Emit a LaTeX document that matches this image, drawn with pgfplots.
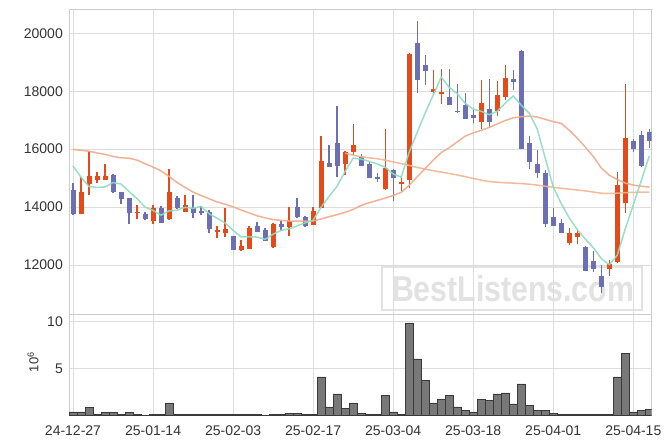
\documentclass[border=0pt]{standalone}
\usepackage{pgfplots}
\pgfplotsset{compat=1.18}
\usepackage{pgfplotstable}
\usepackage{fontspec}
\setmainfont{Liberation Sans}
\definecolor{cup}{HTML}{E6491A}
\definecolor{cdn}{HTML}{6C70B2}
\definecolor{ma5}{HTML}{8DDCBF}
\definecolor{ma20}{HTML}{F0A98A}
\definecolor{ma60}{HTML}{F2B48E}
\definecolor{gridc}{HTML}{DDDDDD}
\definecolor{framec}{HTML}{CCCCCC}
\definecolor{vol}{HTML}{787878}
\definecolor{volb}{HTML}{3A3A3A}
\definecolor{labc}{HTML}{333333}
\definecolor{wm}{HTML}{E2E2E2}

% up candles: i, body bottom (open), body top (close), low, high
\pgfplotstableread{
i b t l h
1 13769 14517 13760 15024
2 14783 15069 14403 15941
3 14941 15059 14817 15197
4 14941 15059 14931 15483
8 13783 13838 13576 14079
10 13528 13955 13403 14079
12 13576 14517 13560 15300
14 13838 14069 13830 14414
18 13148 13207 12921 13345
19 13114 13231 12976 13976
21 12507 12645 12500 12862
22 12562 13276 12550 13345
25 12610 13414 12600 13440
27 13321 13517 13010 13990
30 13379 13862 13370 14010
31 13976 15586 13976 16448
34 15472 15907 15103 15930
35 15907 16138 15793 16862
39 14610 15334 14600 16713
41 14783 14872 14552 15079
42 14931 19300 14645 19310
45 17976 18069 17862 18724
46 17907 17989 17576 18758
51 16941 17597 16713 18379
53 17321 17862 17138 18345
54 17807 18460 17690 18897
62 12748 13114 12690 13266
63 12955 13114 12724 13231
67 11852 12050 11621 12172
68 12093 14759 12080 15217
69 14128 16369 13803 18241
}\upt

% down candles: i, body bottom (close), body top (open), low, high
\pgfplotstableread{
i b t l h
0 13759 14586 13735 14838
5 14528 15103 14472 15148
6 14266 14517 14103 14530
7 13783 14310 13414 14320
9 13576 13748 13560 13838
11 13459 13955 13440 14024
13 13955 14299 13940 14379
15 13783 13966 13610 14414
16 13803 13862 13724 14034
17 13231 13828 13093 13897
20 12528 13000 12517 13010
23 13148 13345 13140 13472
24 12838 13207 12830 13266
26 13321 13403 13183 13517
28 13666 13990 13631 14299
29 13355 13666 13321 13700
32 15390 15528 15369 16138
33 15424 16196 15024 17483
36 15424 15734 15410 15816
37 15013 15472 15000 15540
38 14966 15045 14872 15160
40 14989 15276 14207 15300
43 18390 19655 17955 20414
44 18701 18897 18207 19241
47 17517 17806 17510 18783
48 17270 17300 17260 18264
49 17045 17517 17040 17931
50 17080 17172 16886 17368
52 16941 17403 16748 18437
55 18321 18414 18034 18724
56 16010 19379 16000 19438
57 15541 16216 15300 16459
58 15162 15472 14990 15965
59 13403 15183 13321 15276
60 13355 13666 13340 13955
61 13114 13459 13093 13576
64 11793 12631 11790 12640
65 11862 12138 11769 12483
66 11231 11621 11045 12000
70 15990 16276 15907 16334
71 15424 16483 15390 16621
72 16286 16576 16045 16679
}\dnt

% volume, millions
\pgfplotstableread{
i v
0 0.39
1 0.39
2 0.82
3 0.12
4 0.29
5 0.29
6 0.15
7 0.29
8 0.15
9 0
10 0.1
11 0.1
12 1.35
13 0.1
14 0.1
15 0.1
16 0.1
17 0.1
18 0.1
19 0.1
20 0.1
21 0.1
22 0.1
23 0.1
24 0
25 0.1
26 0.1
27 0.25
28 0.25
29 0.1
30 0.1
31 4.1
32 0.92
33 2.3
34 0.75
35 1.35
36 0.25
37 0.1
38 0.1
39 2.1
40 0.39
41 0.1
42 9.86
43 6.03
44 3.72
45 1.35
46 1.7
47 2.1
48 0.92
49 0.53
50 0.39
51 1.7
52 1.6
53 2.3
54 2.41
55 1.24
56 3.37
57 1.06
58 0.53
59 0.53
60 0.25
61 0.1
62 0.1
63 0.1
64 0.1
65 0.1
66 0.1
67 0.1
68 4.1
69 6.6
70 0.39
71 0.53
72 0.64
}\volt

\pgfplotsset{
  candle/.style n args={2}{only marks, mark size=0pt, mark options={draw=none, fill=none},
    error bars/.cd, y dir=plus, y explicit, error mark=none,
    error bar style={line width=#2, color=#1}},
}

\begin{document}
\begin{tikzpicture}
\path[use as bounding box] (0pt,0pt) rectangle (671pt,444pt);
% watermark
\draw[line width=2.5pt, draw=wm] (382pt,134pt) rectangle (642pt,177pt);
\node[text=wm, font=\fontsize{36}{36}\selectfont\bfseries, inner sep=0pt] at (513pt,155.5pt) {\scalebox{0.84}[1]{BestListens.com}};

\begin{axis}[
  at={(69pt,130pt)}, anchor=south west, scale only axis,
  width=582.7pt, height=304.7pt,
  xmin=-0.5, xmax=72.3, ymin=10310, ymax=20828,
  xtick={0,10,...,70}, xticklabels={},
  ytick={12000,14000,...,20000},
  scaled y ticks=false,
  grid=major, major grid style={draw=gridc, line width=0.8pt},
  axis line style={draw=framec, line width=0.8pt},
  tick style={draw=none},
  /pgf/number format/assume math mode=true,
  /pgf/number format/1000 sep={},
  yticklabel style={font=\fontsize{14}{16}\selectfont, text=labc, inner sep=0pt, anchor=east, xshift=-6pt},
]
% wicks
\addplot[color=cup, candle={cup}{1.3pt}]
  table[x=i, y=l, y error expr=\thisrow{h}-\thisrow{l}] {\upt};
\addplot[color=cdn, candle={cdn}{1.3pt}]
  table[x=i, y=l, y error expr=\thisrow{h}-\thisrow{l}] {\dnt};
% bodies
\addplot[color=cup, candle={cup}{5pt}]
  table[x=i, y=b, y error expr=\thisrow{t}-\thisrow{b}] {\upt};
\addplot[color=cdn, candle={cdn}{5pt}]
  table[x=i, y=b, y error expr=\thisrow{t}-\thisrow{b}] {\dnt};
% MA20
\addplot[ma20, line width=1.5pt, opacity=0.9, mark=none] coordinates {
(0,15990)(1,15960)(2,15930)(3,15870)(4,15820)(5,15750)(6,15700)(7,15690)(8,15620)(9,15500)
(10,15380)(11,15250)(12,15060)(13,14850)(14,14680)(15,14520)(16,14400)(17,14290)(18,14180)(19,14100)
(20,14010)(21,13900)(22,13800)(23,13700)(24,13630)(25,13570)(26,13540)(27,13520)(28,13515)(29,13515)
(30,13520)(31,13590)(32,13670)(33,13740)(34,13820)(35,13920)(36,14060)(37,14150)(38,14230)(39,14310)
(40,14400)(41,14510)(42,14750)(43,15050)(44,15330)(45,15620)(46,15880)(47,16050)(48,16250)(49,16450)
(50,16560)(51,16650)(52,16750)(53,16870)(54,16990)(55,17080)(56,17120)(57,17140)(58,17110)(59,17030)
(60,16950)(61,16890)(62,16650)(63,16380)(64,16070)(65,15750)(66,15350)(67,15100)(68,14950)(69,14830)
(70,14760)(71,14720)(72,14690)};
% MA60
\addplot[ma60, line width=1.5pt, opacity=0.9, mark=none] coordinates {
(34,15860)(35,15790)(36,15740)(37,15700)(38,15670)(39,15620)
(40,15560)(41,15500)(42,15440)(43,15370)(44,15310)(45,15260)(46,15210)(47,15160)(48,15110)(49,15050)
(50,14990)(51,14930)(52,14880)(53,14860)(54,14840)(55,14830)(56,14810)(57,14790)(58,14760)(59,14720)
(60,14680)(61,14650)(62,14620)(63,14590)(64,14560)(65,14520)(66,14480)(67,14470)(68,14480)(69,14500)
(70,14510)(71,14520)(72,14520)};
% MA5
\addplot[ma5, line width=1.5pt, opacity=0.9, mark=none] coordinates {
(0,15420)(1,15030)(2,14710)(3,14680)(4,14693)(5,14846)(6,14796)(7,14539)(8,14295)(9,13998)
(10,13884)(11,13722)(12,13869)(13,13892)(14,13991)(15,13957)(16,14025)(17,13768)(18,13619)(19,13451)
(20,13200)(21,12968)(22,12977)(23,12966)(24,12887)(25,13064)(26,13199)(27,13248)(28,13351)(29,13455)
(30,13544)(31,13997)(32,14372)(33,14723)(34,15234)(35,15689)(36,15657)(37,15581)(38,15490)(39,15375)
(40,15145)(41,15035)(42,15892)(43,16577)(44,17250)(45,17866)(46,18490)(47,18133)(48,17913)(49,17581)
(50,17384)(51,17305)(52,17190)(53,17305)(54,17588)(55,17836)(56,17519)(57,17239)(58,16699)(59,15687)
(60,14694)(61,14115)(62,13630)(63,13220)(64,12898)(65,12599)(66,12223)(67,12010)(68,12339)(69,13254)
(70,14080)(71,14918)(72,15766)};
\end{axis}

\begin{axis}[
  at={(69pt,28.5pt)}, anchor=south west, scale only axis,
  width=582.7pt, height=101.5pt,
  xmin=-0.5, xmax=72.3, ymin=0, ymax=10.8,
  xtick={0,10,...,70},
  xticklabels={24-12-27,25-01-14,25-02-03,25-02-17,25-03-04,25-03-18,25-04-01,25-04-15},
  ytick={5,10},
  grid=major, major grid style={draw=gridc, line width=0.8pt},
  axis line style={draw=framec, line width=0.8pt},
  tick style={draw=none},
  /pgf/number format/assume math mode=true,
  yticklabel style={font=\fontsize{14}{16}\selectfont, text=labc, inner sep=0pt, anchor=east, xshift=-6pt},
  xticklabel style={font=\fontsize{14}{16}\selectfont, text=labc, inner sep=0pt, anchor=north, yshift=-5.5pt},
  ylabel={10\textsuperscript{6}},
  every axis y label/.style={at={(rel axis cs:-0.0618,0.527)}, rotate=90, anchor=center, font=\fontsize{13}{13}\selectfont, text=labc},
  ybar, bar width=1,
]
\addplot[fill=vol, draw=volb, line width=0.6pt] table[x=i, y=v] {\volt};
\end{axis}
\end{tikzpicture}
\end{document}
